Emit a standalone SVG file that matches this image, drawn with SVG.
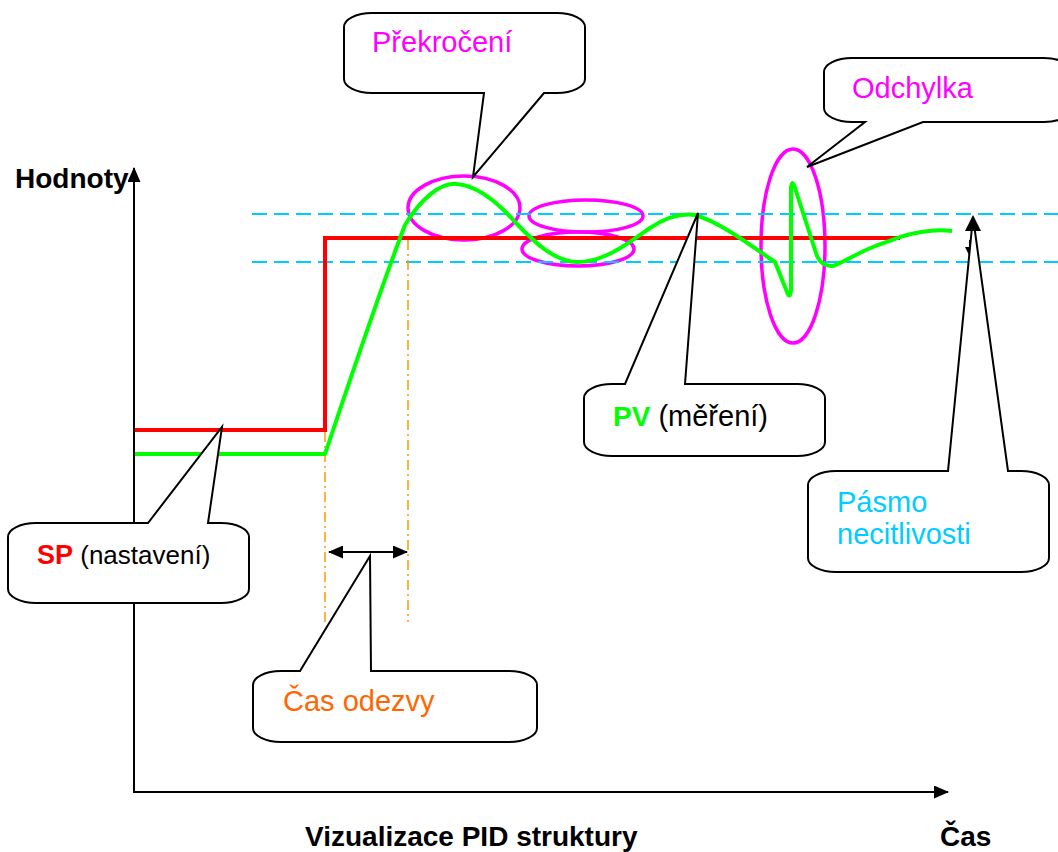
<svg xmlns="http://www.w3.org/2000/svg" width="1058" height="852" viewBox="0 0 1058 852">
<style>
.callout{fill:#fff;stroke:#000;stroke-width:2;stroke-linejoin:miter}
.lbl{font-family:"Liberation Sans",Arial,sans-serif;font-size:29px}
.bold{font-family:"Liberation Sans",Arial,sans-serif;font-size:28px;font-weight:bold}
.mag{fill:none;stroke:#FF00FF;stroke-width:3.5}
.band{stroke:#00CCFF;stroke-width:2;stroke-dasharray:15 7;fill:none}
.dd{stroke:#FF9900;stroke-width:1.5;stroke-dasharray:10 4 2 4;fill:none}
.ax{stroke:#000;stroke-width:2;fill:none}
</style>
<defs>
<marker id="ah" markerUnits="userSpaceOnUse" markerWidth="15" markerHeight="13" refX="14" refY="6.5" orient="auto-start-reverse">
<path d="M0,0 L15,6.5 L0,13 z" fill="#000"/>
</marker>
<marker id="ahs" markerUnits="userSpaceOnUse" markerWidth="10" markerHeight="10" refX="9" refY="5" orient="auto-start-reverse">
<path d="M0,0 L10,5 L0,10 z" fill="#000"/>
</marker>
</defs>
<rect width="1058" height="852" fill="#fff"/>

<g id="ellipses">
<ellipse class="mag" cx="464" cy="208" rx="56" ry="32"/>
<ellipse class="mag" cx="586" cy="216" rx="57" ry="16"/>
<ellipse class="mag" cx="578" cy="249" rx="56" ry="17"/>
<ellipse class="mag" cx="793" cy="246" rx="32" ry="97"/>
</g>

<g id="band">
<line class="band" x1="252" y1="214" x2="1058" y2="214"/>
<line class="band" x1="252" y1="262" x2="1058" y2="262"/>
</g>

<g id="response-lines">
<line class="dd" x1="325" y1="432" x2="325" y2="624"/>
<line class="dd" x1="408" y1="240" x2="408" y2="622"/>
</g>

<g id="sp-curve">
<path d="M133,430 L325,430 L325,238 L900,238" fill="none" stroke="#FF0000" stroke-width="4"/>
</g>

<g id="pv-curve">
<path d="M133,454 L325,454 C350,380 380,290 405,225 C420,200 440,182 457,184 C480,186 500,205 515,222 C535,243 555,262 578,262 C605,262 630,242 650,228 C665,218 680,213 695,215 C720,222 750,245 775,262 L787,292 Q790,300 791,290 L791,188 Q792,178 795,188 L817,256 Q822,267 833,266 C845,262 855,254 873,247 C885,242 893,240 900,237 C920,231 935,229 952,231" fill="none" stroke="#00FF00" stroke-width="4" stroke-linejoin="round"/>
</g>

<g id="axes">
<line class="ax" x1="134" y1="792" x2="134" y2="168" marker-end="url(#ah)"/>
<line class="ax" x1="133" y1="792" x2="948" y2="792" marker-end="url(#ah)"/>
</g>

<g id="connectors">
<line class="ax" x1="329" y1="552" x2="407" y2="552" marker-start="url(#ah)" marker-end="url(#ah)"/>
<line class="ax" x1="970" y1="240" x2="970" y2="256" marker-end="url(#ahs)"/>
</g>

<g id="callout-prekroceni">
<path class="callout" d="M372,13 L557,13 A28 14 0 0 1 585,27 L585,79 A28 14 0 0 1 557,93 L544,93 L473,177 L484,93 L372,93 A28 14 0 0 1 344,79 L344,27 A28 14 0 0 1 372,13 Z"/>
<text class="lbl" x="372" y="52" fill="#FF00FF">Překročení</text>
</g>

<g id="callout-odchylka">
<path class="callout" d="M852,58 L1044,58 A28 14 0 0 1 1072,72 L1072,108 A28 14 0 0 1 1044,122 L923,122 L807,167 L865,122 L852,122 A28 14 0 0 1 824,108 L824,72 A28 14 0 0 1 852,58 Z"/>
<text class="lbl" x="852" y="98" fill="#FF00FF">Odchylka</text>
</g>

<g id="callout-sp">
<path class="callout" d="M36,523 L148,523 L222,427 L208,523 L221,523 A28 14 0 0 1 249,537 L249,589 A28 14 0 0 1 221,603 L36,603 A28 14 0 0 1 8,589 L8,537 A28 14 0 0 1 36,523 Z"/>
<text x="37" y="564" font-family="Liberation Sans, Arial, sans-serif"><tspan font-size="27" font-weight="bold" fill="#FF0000">SP</tspan><tspan font-size="26" fill="#000"> (nastavení)</tspan></text>
</g>

<g id="callout-pv">
<path class="callout" d="M612,384 L625,384 L698,213 L685,384 L797,384 A28 14 0 0 1 825,398 L825,442 A28 14 0 0 1 797,456 L612,456 A28 14 0 0 1 584,442 L584,398 A28 14 0 0 1 612,384 Z"/>
<text x="613" y="426" font-family="Liberation Sans, Arial, sans-serif" font-size="29"><tspan font-weight="bold" font-size="28" fill="#00FF00">PV</tspan><tspan fill="#000"> (měření)</tspan></text>
</g>

<g id="callout-pasmo">
<path class="callout" d="M836,471 L948,471 L973,217 L1008,471 L1021,471 A28 14 0 0 1 1049,485 L1049,558 A28 14 0 0 1 1021,572 L836,572 A28 14 0 0 1 808,558 L808,485 A28 14 0 0 1 836,471 Z"/>
<path d="M973,215 L981,231 L965,231 Z" fill="#000"/>
<text class="lbl" x="837" y="512" fill="#00CCFF">Pásmo</text>
<text class="lbl" x="837" y="544" fill="#00CCFF">necitlivosti</text>
</g>

<g id="callout-odezva">
<path class="callout" d="M281,671 L300,671 L370,556 L371,671 L509,671 A28 14 0 0 1 537,685 L537,728 A28 14 0 0 1 509,742 L281,742 A28 14 0 0 1 253,728 L253,685 A28 14 0 0 1 281,671 Z"/>
<text class="lbl" x="283" y="711" fill="#FF6600">Čas odezvy</text>
</g>

<g id="labels">
<text class="bold" x="15" y="188">Hodnoty</text>
<text class="bold" x="305" y="846">Vizualizace PID struktury</text>
<text class="bold" x="940" y="846">Čas</text>
</g>
</svg>
